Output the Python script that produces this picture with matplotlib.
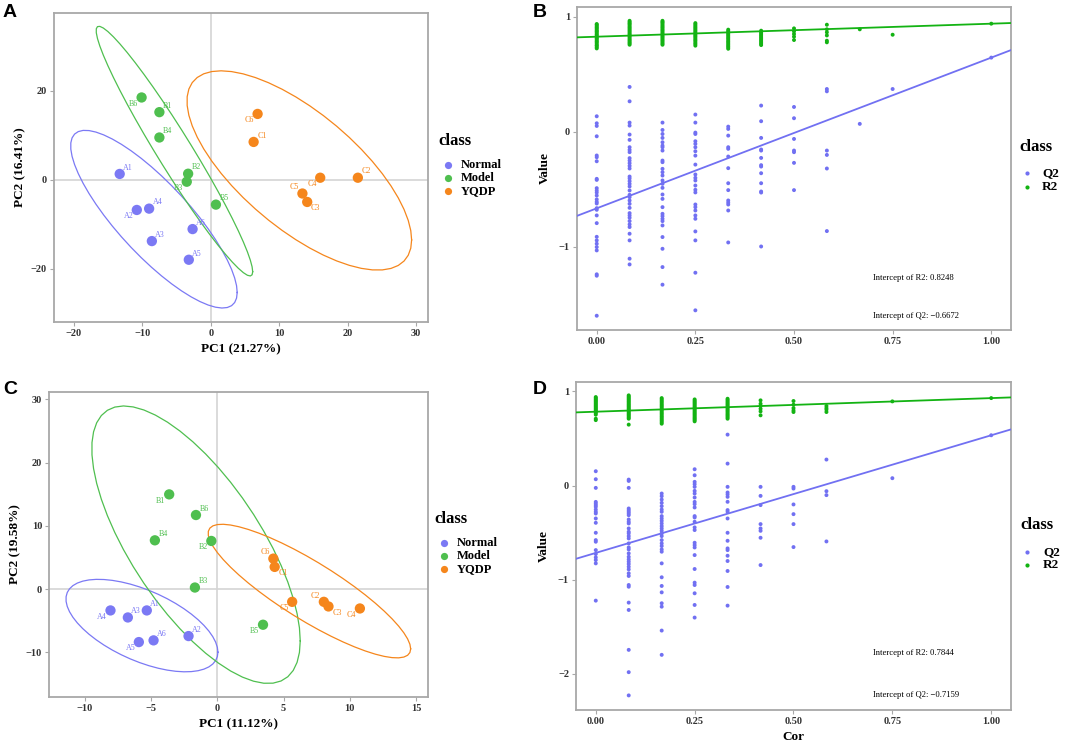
import numpy as np
import matplotlib.pyplot as plt
from matplotlib.lines import Line2D

plt.rcParams['font.family'] = ['Liberation Serif', 'DejaVu Serif']

# ---------------- data ----------------
groups = ['Normal', 'Model', 'YQDP']
group_prefix = ['A', 'B', 'C']

# panel A: PCA scores (PC1, PC2), samples 1..6 per group
pca_a_x = [[-13.3, -10.8, -8.6, -9.0, -3.2, -2.65],
           [-7.5, -3.3, -3.5, -7.5, 0.76, -10.1],
           [6.27, 21.5, 14.1, 16.0, 13.4, 6.85]]
pca_a_y = [[1.3, -6.8, -13.8, -6.5, -18.0, -11.1],
           [15.2, 1.35, -0.45, 9.5, -5.6, 18.5],
           [8.5, 0.45, -5.0, 0.45, -3.1, 14.8]]

# panel C
pca_c_x = [[-5.32, -2.17, -6.75, -8.06, -5.92, -4.81],
           [-3.63, -0.45, -1.69, -4.71, 3.45, -1.61],
           [4.33, 8.04, 8.39, 10.76, 5.65, 4.23]]
pca_c_y = [[-3.36, -7.41, -4.47, -3.36, -8.36, -8.09],
           [14.98, 7.62, 0.26, 7.72, -5.62, 11.72],
           [3.52, -2.0, -2.73, -3.05, -2.0, 4.83]]

# permutation tests: correlation levels
cor_levels = [0.0, 0.0833, 0.1667, 0.25, 0.3333, 0.4167, 0.5, 0.5833, 0.6667, 0.75, 1.0]
perm_classes = ['Q2', 'R2']

# panel B
q2_b = [
    [0.133, 0.072, 0.049, -0.041, -0.208, -0.223, -0.258, -0.411, -0.420, -0.492, -0.512, -0.530, -0.556,
     -0.590, -0.611, -0.625, -0.666, -0.680, -0.729, -0.796, -0.915, -0.946, -0.975, -1.004, -1.033,
     -1.241, -1.253, -1.601],
    [0.388, 0.263, 0.078, 0.052, -0.026, -0.072, -0.136, -0.159, -0.179, -0.231, -0.252, -0.275, -0.298,
     -0.321, -0.391, -0.408, -0.431, -0.454, -0.477, -0.512, -0.550, -0.570, -0.599, -0.628, -0.663,
     -0.709, -0.729, -0.749, -0.778, -0.807, -0.830, -0.888, -0.946, -1.105, -1.155],
    [0.078, 0.014, -0.021, -0.055, -0.093, -0.122, -0.136, -0.165, -0.252, -0.266, -0.324, -0.353, -0.382,
     -0.425, -0.454, -0.489, -0.547, -0.585, -0.657, -0.715, -0.735, -0.758, -0.778, -0.816, -0.917,
     -1.019, -1.178, -1.331],
    [0.148, 0.078, -0.009, -0.021, -0.084, -0.107, -0.136, -0.171, -0.209, -0.287, -0.373, -0.402, -0.425,
     -0.469, -0.506, -0.529, -0.634, -0.657, -0.686, -0.729, -0.758, -0.868, -0.946, -1.227, -1.554],
    [0.043, 0.023, -0.035, -0.136, -0.150, -0.217, -0.318, -0.449, -0.509, -0.599, -0.617, -0.634, -0.686,
     -0.964],
    [0.226, 0.090, -0.055, -0.156, -0.165, -0.229, -0.292, -0.304, -0.362, -0.449, -0.521, -0.530, -0.999],
    [0.214, 0.116, -0.064, -0.165, -0.179, -0.272, -0.509],
    [0.370, 0.350, -0.165, -0.203, -0.321, -0.865],
    [0.067],
    [0.370],
    [0.643],
]
r2_b = [
    [0.935, 0.928, 0.917, 0.906, 0.898, 0.887, 0.876, 0.869, 0.858, 0.846, 0.838, 0.826, 0.815, 0.807,
     0.795, 0.784, 0.776, 0.764, 0.752, 0.745, 0.733, 0.723],
    [0.963, 0.952, 0.941, 0.933, 0.921, 0.909, 0.898, 0.887, 0.876, 0.864, 0.852, 0.843, 0.831, 0.820,
     0.808, 0.797, 0.786, 0.775, 0.766, 0.755],
    [0.963, 0.953, 0.944, 0.932, 0.921, 0.910, 0.899, 0.887, 0.878, 0.866, 0.854, 0.844, 0.832, 0.821,
     0.810, 0.799, 0.788, 0.776, 0.765, 0.755],
    [0.943, 0.932, 0.921, 0.909, 0.898, 0.887, 0.876, 0.864, 0.853, 0.842, 0.831, 0.820, 0.808, 0.796,
     0.785, 0.772, 0.760, 0.747],
    [0.886, 0.874, 0.862, 0.851, 0.839, 0.827, 0.815, 0.803, 0.790, 0.779, 0.767, 0.755, 0.743, 0.732,
     0.720],
    [0.877, 0.866, 0.855, 0.843, 0.832, 0.820, 0.809, 0.797, 0.786, 0.774, 0.763, 0.752],
    [0.897, 0.871, 0.848, 0.825, 0.796],
    [0.929, 0.889, 0.863, 0.836, 0.790, 0.776],
    [0.889],
    [0.842],
    [0.938],
]
intercept_b = {'R2': 0.8248, 'Q2': -0.6672}

# panel D
q2_d = [
    [0.152, 0.067, -0.025, -0.174, -0.191, -0.209, -0.226, -0.255, -0.279, -0.297, -0.350, -0.396, -0.502,
     -0.580, -0.597, -0.686, -0.728, -0.764, -0.792, -0.827, -1.223],
    [0.063, 0.049, -0.025, -0.244, -0.262, -0.280, -0.297, -0.315, -0.361, -0.385, -0.403, -0.456, -0.491,
     -0.509, -0.537, -0.562, -0.615, -0.658, -0.679, -0.721, -0.757, -0.785, -0.809, -0.834, -0.862,
     -0.891, -0.933, -0.961, -1.057, -1.075, -1.244, -1.322, -1.746, -1.983, -2.230],
    [-0.085, -0.113, -0.149, -0.184, -0.219, -0.255, -0.279, -0.325, -0.350, -0.375, -0.403, -0.431, -0.456,
     -0.481, -0.509, -0.537, -0.580, -0.615, -0.643, -0.679, -0.703, -0.827, -0.975, -1.067, -1.135,
     -1.251, -1.287, -1.541, -1.799],
    [0.173, 0.109, 0.039, 0.014, -0.014, -0.057, -0.085, -0.127, -0.174, -0.198, -0.233, -0.325, -0.339,
     -0.385, -0.445, -0.473, -0.608, -0.633, -0.658, -0.739, -0.887, -1.032, -1.057, -1.145, -1.269,
     -1.403],
    [0.541, 0.233, -0.014, -0.074, -0.095, -0.120, -0.173, -0.261, -0.279, -0.350, -0.502, -0.587, -0.668,
     -0.686, -0.746, -0.802, -0.908, -1.078, -1.276],
    [-0.014, -0.110, -0.208, -0.410, -0.456, -0.481, -0.555, -0.845],
    [-0.014, -0.032, -0.201, -0.304, -0.410, -0.654],
    [0.276, -0.060, -0.102, -0.594],
    [],
    [0.078],
    [0.534],
]
r2_d = [
    [0.940, 0.929, 0.917, 0.906, 0.895, 0.884, 0.872, 0.861, 0.849, 0.838, 0.826, 0.815, 0.803, 0.792,
     0.780, 0.768, 0.753, 0.710, 0.695],
    [0.958, 0.946, 0.934, 0.922, 0.910, 0.897, 0.885, 0.872, 0.860, 0.848, 0.836, 0.823, 0.811, 0.798,
     0.786, 0.773, 0.760, 0.748, 0.735, 0.722, 0.710, 0.647],
    [0.929, 0.915, 0.901, 0.887, 0.872, 0.858, 0.844, 0.830, 0.815, 0.801, 0.787, 0.772, 0.758, 0.743,
     0.729, 0.714, 0.700, 0.686, 0.671, 0.657],
    [0.915, 0.902, 0.889, 0.876, 0.863, 0.850, 0.837, 0.824, 0.811, 0.798, 0.785, 0.772, 0.759, 0.746,
     0.733, 0.720, 0.708, 0.695, 0.682],
    [0.922, 0.909, 0.895, 0.882, 0.869, 0.856, 0.842, 0.829, 0.816, 0.802, 0.789, 0.776, 0.762, 0.749,
     0.736, 0.723, 0.710],
    [0.905, 0.869, 0.845, 0.816, 0.788, 0.746],
    [0.898, 0.859, 0.823, 0.799, 0.781],
    [0.845, 0.823, 0.806, 0.781],
    [],
    [0.894],
    [0.929],
]
intercept_d = {'R2': 0.7844, 'Q2': -0.7159}

# ---------------- style ----------------
group_colors = ['#7B79F4', '#4FBF4F', '#F5861C']
q2_color = '#7170F2'
r2_color = '#13B313'
frame_grey = '#A8A8A8'

# label direction for every sample label (ggrepel-like placement)
label_side_a = [['ur', 'll', 'ur', 'ur', 'ur', 'ur'],
                ['ur', 'ur', 'll', 'ur', 'ur', 'll'],
                ['ur', 'ur', 'lr', 'll', 'ul', 'll']]
label_side_c = [['ur', 'ur', 'ur', 'll', 'll', 'ur'],
                ['ll', 'll', 'ur', 'ur', 'll', 'ur'],
                ['lr', 'ul', 'lr', 'll', 'll', 'ul']]
side_offset = {'ur': (6, 4.5), 'll': (-6, -4.5), 'ul': (-6, 4.5), 'lr': (6, -4.5)}

W, H = 1065, 745


def px_axes(fig, left, top, right, bottom):
    return fig.add_axes([left / W, 1 - bottom / H, (right - left) / W, (bottom - top) / H])


def cov_trob(x, nu=5, maxit=25, tol=0.01):
    # robust t covariance, as MASS::cov.trob (used by ggplot2 stat_ellipse)
    n, p = x.shape
    wt = np.ones(n)
    loc = x.mean(axis=0)
    w = np.sqrt(wt)
    for _ in range(maxit):
        w0 = w
        X = x - loc
        _, s, vt = np.linalg.svd(np.sqrt(w / w.sum())[:, None] * X, full_matrices=False)
        wX = X @ vt.T @ np.diag(1 / s)
        Q = (wX ** 2).sum(axis=1)
        w = wt * (nu + p) / (nu + Q)
        loc = (w[:, None] * x).sum(axis=0) / w.sum()
        if np.all(np.abs(w - w0) < tol):
            break
    sX = np.sqrt(w)[:, None] * X
    return loc, sX.T @ sX / wt.sum()


def ellipse_path(xs, ys, level=0.95, segments=51):
    pts = np.column_stack([xs, ys])
    center, shape = cov_trob(pts)
    d2 = len(xs) - 1
    qf = d2 / 2 * ((1 - level) ** (-2 / d2) - 1)  # F(2, d2) quantile
    radius = np.sqrt(2 * qf)
    chol = np.linalg.cholesky(shape).T
    ang = np.linspace(0, 2 * np.pi, segments + 1)
    circle = np.column_stack([np.cos(ang), np.sin(ang)])
    e = center + radius * circle @ chol
    return e[:, 0], e[:, 1]


def style_frame(ax):
    for s in ax.spines.values():
        s.set_color(frame_grey)
        s.set_linewidth(1.3)
    ax.tick_params(colors='#333333', length=3, width=0.8, labelsize=7.5, pad=2)
    ax.tick_params(axis='both', color=frame_grey)
    for lab in ax.get_xticklabels() + ax.get_yticklabels():
        lab.set_fontweight('bold')


def class_legend(fig, title_xy, marker_x, label_x, ys, labels, colors, ms, fontsize):
    # ggplot-style legend: bold title, then one row per class
    fig.text(title_xy[0] / W, 1 - title_xy[1] / H, 'class', fontsize=12, fontweight='bold',
             ha='left', va='center')
    for y, lab, col in zip(ys, labels, colors):
        fig.add_artist(Line2D([marker_x / W], [1 - y / H], ls='none', marker='o', ms=ms, color=col,
                              markeredgewidth=0, transform=fig.transFigure))
        fig.text(label_x / W, 1 - y / H, lab, fontsize=fontsize, fontweight='bold',
                 ha='left', va='center')


def pca_panel(ax, xs, ys, sides, xlabel, ylabel, xlim, ylim, xticks, yticks):
    ax.axhline(0, color='#D4D4D4', lw=1.2, zorder=0)
    ax.axvline(0, color='#D4D4D4', lw=1.2, zorder=0)
    for g in range(3):
        ex, ey = ellipse_path(np.array(xs[g]), np.array(ys[g]))
        ax.plot(ex, ey, color=group_colors[g], lw=0.9, zorder=1)
    for g in range(3):
        ax.scatter(xs[g], ys[g], s=55, color=group_colors[g], edgecolors='none', zorder=3)
        for i in range(6):
            dx, dy = side_offset[sides[g][i]]
            ax.annotate(f'{group_prefix[g]}{i + 1}', (xs[g][i], ys[g][i]), xytext=(dx, dy),
                        textcoords='offset points', ha='center', va='center',
                        fontsize=5.8, color=group_colors[g], zorder=4)
    ax.set_xlim(*xlim)
    ax.set_ylim(*ylim)
    ax.set_xticks(xticks)
    ax.set_yticks(yticks)
    ax.set_xlabel(xlabel, fontsize=9.5, fontweight='bold', labelpad=4)
    ax.set_ylabel(ylabel, fontsize=9.5, fontweight='bold', labelpad=3)
    style_frame(ax)


def perm_panel(ax, q2, r2, intercepts, ylim, yticks, texty, show_xlabel):
    q2x, q2y, r2x, r2y = [], [], [], []
    for c, vals in zip(cor_levels, q2):
        q2x += [c] * len(vals)
        q2y += vals
    for c, vals in zip(cor_levels, r2):
        r2x += [c] * len(vals)
        r2y += vals
    ax.scatter(q2x, q2y, s=8, color=q2_color, edgecolors='none', zorder=2)
    ax.scatter(r2x, r2y, s=8, color=r2_color, edgecolors='none', zorder=2)
    # regression lines through the intercept and the original model (cor = 1)
    ax.axline((0, intercepts['Q2']), (1, q2[-1][0]), color=q2_color, lw=1.3, zorder=3)
    ax.axline((0, intercepts['R2']), (1, r2[-1][0]), color=r2_color, lw=1.3, zorder=3)
    ax.text(0.70, texty[0], f"Intercept of R2: {intercepts['R2']}", fontsize=6.2, va='center')
    ax.text(0.70, texty[1], f"Intercept of Q2: \u2212{abs(intercepts['Q2'])}", fontsize=6.2, va='center')
    ax.set_xlim(-0.05, 1.05)
    ax.set_ylim(*ylim)
    ax.set_xticks([0, 0.25, 0.5, 0.75, 1.0])
    ax.set_xticklabels(['0.00', '0.25', '0.50', '0.75', '1.00'])
    ax.set_yticks(yticks)
    ax.set_ylabel('Value', fontsize=9.5, fontweight='bold', labelpad=6)
    if show_xlabel:
        ax.set_xlabel('Cor', fontsize=9.5, fontweight='bold', labelpad=4)
    style_frame(ax)


fig = plt.figure(figsize=(W / 100, H / 100), dpi=100)

ax_a = px_axes(fig, 54, 13, 428, 322)
pca_panel(ax_a, pca_a_x, pca_a_y, label_side_a, 'PC1 (21.27%)', 'PC2 (16.41%)',
          (-22.9, 31.75), (-32, 37.5), [-20, -10, 0, 10, 20, 30], [-20, 0, 20])
class_legend(fig, (438, 141), 448, 461, [165, 178, 191], groups, group_colors, 5.2, 9)

ax_c = px_axes(fig, 49, 392, 428, 697)
pca_panel(ax_c, pca_c_x, pca_c_y, label_side_c, 'PC1 (11.12%)', 'PC2 (19.58%)',
          (-12.7, 15.9), (-17.04, 31.16), [-10, -5, 0, 5, 10, 15], [-10, 0, 10, 20, 30])
class_legend(fig, (434, 519), 444, 457, [543, 556, 569], groups, group_colors, 5.2, 9)

ax_b = px_axes(fig, 577, 7, 1011, 330)
perm_panel(ax_b, q2_b, r2_b, intercept_b, (-1.725, 1.083), [-1, 0, 1], (-1.276, -1.606), False)
class_legend(fig, (1019, 147), 1027, 1042, [173, 187], perm_classes, [q2_color, r2_color], 3, 9.5)

ax_d = px_axes(fig, 576, 382, 1011, 710)
perm_panel(ax_d, q2_d, r2_d, intercept_d, (-2.385, 1.10), [-2, -1, 0, 1], (-1.778, -2.224), True)
class_legend(fig, (1020, 525), 1027, 1043, [552, 565], perm_classes, [q2_color, r2_color], 3, 9.5)

for letter, (lx, ly) in zip('ABCD', [(3, 4), (533, 4), (3, 381), (533, 381)]):
    fig.text(lx / W, 1 - ly / H, letter, fontsize=14, fontweight='bold', family='Liberation Sans',
             ha='left', va='top')

fig.savefig('out.png', dpi=100)
